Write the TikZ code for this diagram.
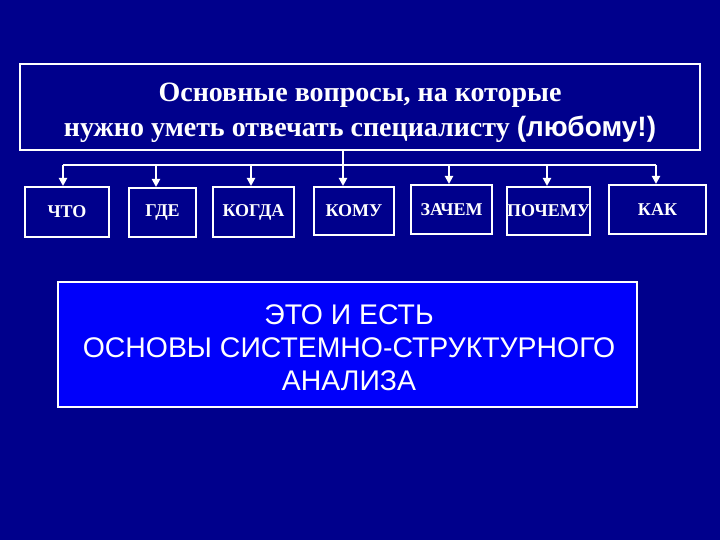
\documentclass[tikz,border=0pt]{standalone}
\usepackage{fontspec}
\setmainfont{Liberation Serif}
\newfontfamily\arialf{Liberation Sans}
\usetikzlibrary{arrows.meta}
\definecolor{bgnavy}{RGB}{0,0,140}
\definecolor{boxblue}{RGB}{0,0,250}
\begin{document}
\begin{tikzpicture}[x=1pt,y=-1pt,
  frame/.style={draw=white,line width=2pt,text=white,inner sep=0pt},
  qbox/.style={frame,font=\bfseries\fontsize{18}{20}\selectfont},
  wire/.style={draw=white,line width=2pt},
  txt/.style={text=white,inner sep=0pt,align=center},
  arr/.style={wire,-{Triangle[width=8pt,length=8pt]}}]
\fill[bgnavy] (0,0) rectangle (720,540);
\useasboundingbox (0,0) rectangle (720,540);
% top box
\node[frame,minimum width=680pt,minimum height=86pt] (top) at (360,107) {};
\node[txt,font=\bfseries\fontsize{28}{35}\selectfont] (toptext) at (360,113)
  {Основные вопросы, на которые\\нужно уметь отвечать специалисту {\arialf (любому!)}};
% question boxes
\node[qbox,minimum width=84pt,minimum height=50pt] (q1) at (67,212) {ЧТО};
\node[qbox,minimum width=67pt,minimum height=49pt] (q2) at (162.5,212.5) {ГДЕ};
\node[qbox,minimum width=81pt,minimum height=50pt] (q3) at (253.5,212) {КОГДА};
\node[qbox,minimum width=80pt,minimum height=48pt] (q4) at (354,211) {КОМУ};
\node[qbox,minimum width=81pt,minimum height=49pt] (q5) at (451.5,209.5) {ЗАЧЕМ};
\node[qbox,minimum width=81pt,minimum height=48pt] (q6) at (548.5,211) {ПОЧЕМУ};
\node[qbox,minimum width=97pt,minimum height=49pt] (q7) at (657.5,209.5) {КАК};
% bus
\coordinate (stem) at (343,165);
\coordinate (b1) at (63,165);
\coordinate (b2) at (156,165);
\coordinate (b3) at (251,165);
\coordinate (b4) at (343,165);
\coordinate (b5) at (449,165);
\coordinate (b6) at (547,165);
\coordinate (b7) at (656,165);
\draw[wire] (top.south -| stem) -- (stem);
\draw[wire] (b1) -- (b7);
\draw[arr] (b1) -- (b1 |- q1.north);
\draw[arr] (b2) -- (b2 |- q2.north);
\draw[arr] (b3) -- (b3 |- q3.north);
\draw[arr] (b4) -- (b4 |- q4.north);
\draw[arr] (b5) -- (b5 |- q5.north);
\draw[arr] (b6) -- (b6 |- q6.north);
\draw[arr] (b7) -- (b7 |- q7.north);
% bottom box
\node[frame,fill=boxblue,line width=2.5pt,minimum width=579pt,minimum height=125pt] (res) at (347.5,344.5) {};
\node[txt,font=\arialf\fontsize{28.4}{33}\selectfont] (restext) at (349,348)
  {ЭТО И ЕСТЬ\\ОСНОВЫ СИСТЕМНО-СТРУКТУРНОГО\\АНАЛИЗА};
\end{tikzpicture}
\end{document}
